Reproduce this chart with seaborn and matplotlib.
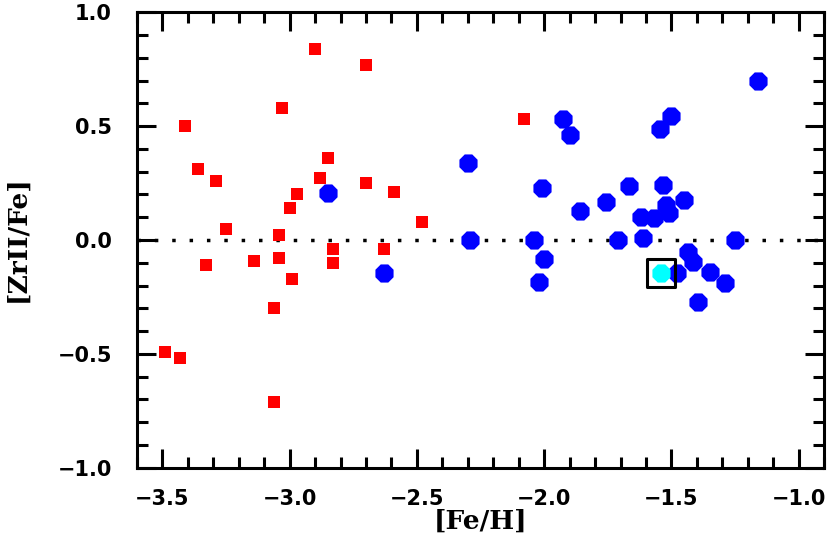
import numpy as np
import pandas as pd
import matplotlib
matplotlib.use('Agg')
import matplotlib.pyplot as plt
import seaborn as sns
from matplotlib.ticker import MultipleLocator

# red squares
red_feh = [-3.49, -3.43, -3.41, -3.36, -3.29, -3.33, -3.25, -3.14, -3.03, -3.04,
           -3.04, -2.97, -3.00, -2.99, -3.06, -3.06, -2.90, -2.88, -2.85, -2.83,
           -2.83, -2.70, -2.70, -2.63, -2.59, -2.48, -2.08]
red_zr = [-0.49, -0.52, 0.50, 0.31, 0.26, -0.11, 0.05, -0.09, 0.58, 0.02,
          -0.08, 0.20, 0.14, -0.17, -0.30, -0.71, 0.84, 0.27, 0.36, -0.04,
          -0.10, 0.77, 0.25, -0.04, 0.21, 0.08, 0.53]

# blue circles
blue_feh = [-2.85, -2.63, -2.30, -2.29, -1.16, -1.925, -1.90, -1.50, -1.545, -2.01,
            -1.666, -1.533, -1.858, -1.757, -1.45, -1.52, -1.51, -1.62, -1.57, -1.61,
            -2.04, -1.71, -1.25, -2.00, -2.02, -1.435, -1.415, -1.478, -1.35, -1.29,
            -1.396]
blue_zr = [0.205, -0.145, 0.34, 0.0, 0.70, 0.53, 0.46, 0.545, 0.487, 0.23,
           0.237, 0.24, 0.127, 0.167, 0.175, 0.154, 0.118, 0.10, 0.097, 0.01,
           0.0, 0.0, 0.0, -0.083, -0.185, -0.053, -0.097, -0.145, -0.14, -0.19,
           -0.27]

# highlighted star
cyan_feh = [-1.54]
cyan_zr = [-0.145]

xtick_vals = [-3.5, -3.0, -2.5, -2.0, -1.5, -1.0]
ytick_vals = [-1.0, -0.5, 0.0, 0.5, 1.0]

red = pd.DataFrame({'feh': red_feh, 'zr': red_zr})
blue = pd.DataFrame({'feh': blue_feh, 'zr': blue_zr})
cyan = pd.DataFrame({'feh': cyan_feh, 'zr': cyan_zr})

sns.set_style('ticks')
plt.rcParams['font.family'] = ['DejaVu Sans']
plt.rcParams['text.color'] = 'black'
plt.rcParams['axes.labelcolor'] = 'black'
plt.rcParams['xtick.color'] = 'black'
plt.rcParams['ytick.color'] = 'black'
plt.rcParams['axes.edgecolor'] = 'black'

fig = plt.figure(figsize=(8.3, 5.53), dpi=100)
ax = fig.add_axes([0.165, 0.154, 0.828, 0.824])

ax.axhline(0.0, color='black', lw=2.5, ls=(0, (1, 4)), zorder=1)

sns.scatterplot(data=red, x='feh', y='zr', ax=ax, marker='s', s=80,
                color='#ff0000', linewidth=0, zorder=3)
sns.scatterplot(data=blue, x='feh', y='zr', ax=ax, marker='8', s=200,
                color='#0000ff', linewidth=0, zorder=3)
sns.scatterplot(data=cyan, x='feh', y='zr', ax=ax, marker='8', s=200,
                color='#00ffff', linewidth=0, zorder=4)
sns.scatterplot(data=cyan, x='feh', y='zr', ax=ax, marker='s', s=400,
                facecolor='none', edgecolor='black', linewidth=2.2, zorder=5)

ax.set_xlim(-3.6, -0.9)
ax.set_ylim(-1.0, 1.0)
ax.xaxis.set_minor_locator(MultipleLocator(0.1))
ax.yaxis.set_minor_locator(MultipleLocator(0.1))
ax.set_xticks(xtick_vals)
ax.set_xticklabels([f'{v:.1f}'.replace('-', '\u2212') for v in xtick_vals])
ax.set_yticks(ytick_vals)
ax.set_yticklabels([f'{v:.1f}'.replace('-', '\u2212') for v in ytick_vals])

ax.tick_params(which='both', direction='in', top=True, right=True,
               width=2.2, labelsize=15)
ax.tick_params(axis='x', pad=15)
ax.tick_params(axis='y', pad=18)
ax.tick_params(which='major', length=14)
ax.tick_params(which='minor', length=8)
for lab in ax.get_xticklabels() + ax.get_yticklabels():
    lab.set_fontweight('bold')
for sp in ax.spines.values():
    sp.set_linewidth(2.2)
    sp.set_visible(True)
    sp.set_color('black')

ax.set_xlabel('[Fe/H]', fontsize=19, fontweight='bold', family='DejaVu Serif', va='center')
ax.set_ylabel('[ZrII/Fe]', fontsize=19, fontweight='bold', family='DejaVu Serif', va='center')
ax.xaxis.set_label_coords(0.5, -0.118)
ax.yaxis.set_label_coords(-0.175, 0.504)

fig.savefig('out.png', dpi=100)
